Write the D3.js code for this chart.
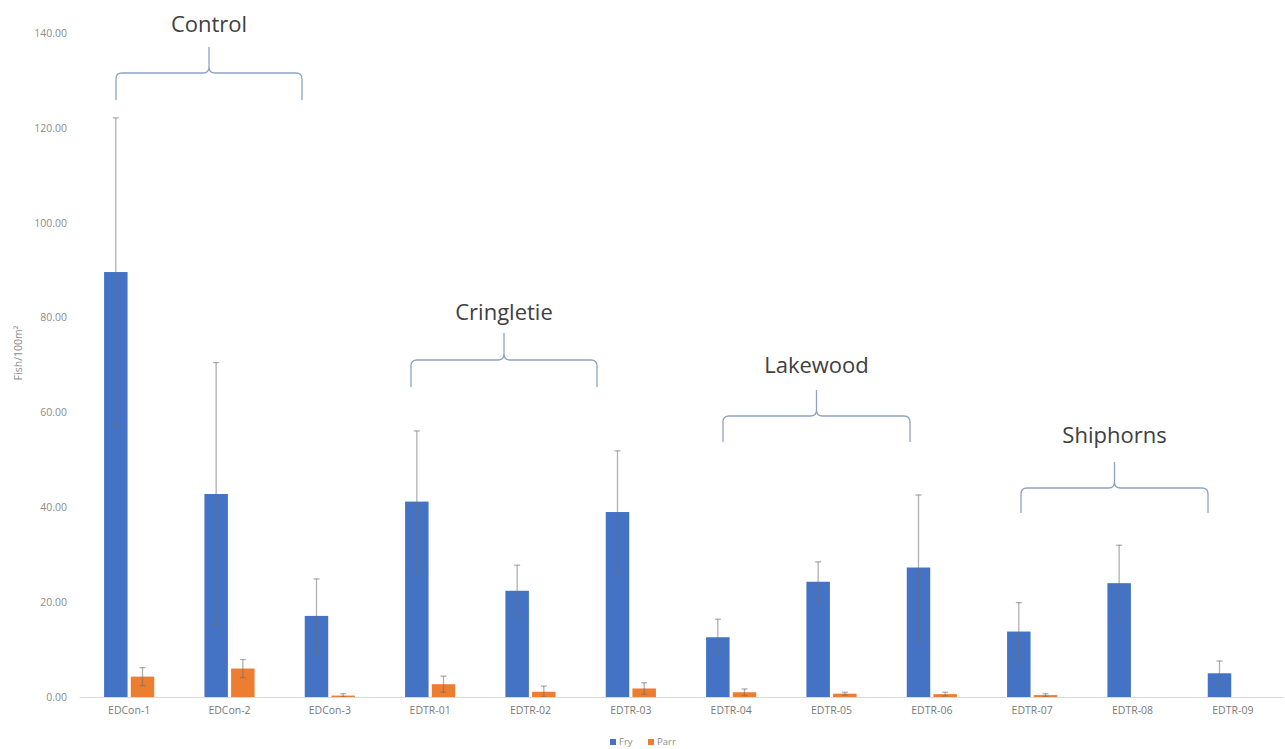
<!DOCTYPE html>
<html>
<head>
<meta charset="utf-8">
<script src="https://cdn.jsdelivr.net/npm/d3@7/dist/d3.min.js"></script>
<style>
  html, body { margin: 0; padding: 0; background: #ffffff; }
  svg { display: block; }
</style>
</head>
<body>
<svg id="chart" width="1285" height="749"></svg>
<script>
// Sites sampled, in plot order
const sites = ["EDCon-1", "EDCon-2", "EDCon-3", "EDTR-01", "EDTR-02", "EDTR-03",
               "EDTR-04", "EDTR-05", "EDTR-06", "EDTR-07", "EDTR-08", "EDTR-09"];
const seriesNames = ["Fry", "Parr"];

// Mean density (fish per 100 m²) and error magnitude for each site
const fryMean  = [89.6, 42.8, 17.1, 41.2, 22.4, 39.0, 12.6, 24.3, 27.3, 13.8, 24.0, 5.0];
const fryErr   = [32.5, 27.7,  7.8, 14.9,  5.4, 12.9,  3.8,  4.2, 15.3,  6.1,  8.0, 2.6];
const parrMean = [ 4.3,  6.0,  0.3,  2.7,  1.1,  1.8,  1.0,  0.7,  0.6,  0.4,  0.0, 0.0];
const parrErr  = [ 1.9,  1.9,  0.4,  1.7,  1.2,  1.2,  0.7,  0.3,  0.4,  0.3,  0.0, 0.0];

const yTicks = [0, 20, 40, 60, 80, 100, 120, 140];

// Catchment groupings shown with braces above the bars
const groupNames = ["Control", "Cringletie", "Lakewood", "Shiphorns"];

// Brace placement (pixels): left end, right end, bar-level y, tip y, label y
const braceLayout = [
  { x1: 116,  x2: 302,  yEnd: 100, yBar: 73,  yTip: 47,  yText: 32 },
  { x1: 411,  x2: 597,  yEnd: 387, yBar: 360, yTip: 333, yText: 320 },
  { x1: 723,  x2: 910,  yEnd: 442, yBar: 416, yTip: 390, yText: 373 },
  { x1: 1021, x2: 1208, yEnd: 513, yBar: 488, yTip: 462, yText: 443 }
];

const colors = { Fry: "#4472c4", Parr: "#ed7d31" };

const svg = d3.select("#chart");
const plotLeft = 79, plotRight = 1283, plotTop = 33, plotBottom = 697;
const font = "'Open Sans', 'Liberation Sans', sans-serif";

const x0 = d3.scaleBand().domain(sites).range([plotLeft, plotRight])
  .paddingInner(0.5).paddingOuter(0.25);
const x1 = d3.scaleBand().domain(seriesNames).range([0, x0.bandwidth()])
  .paddingInner(0.12);
const y = d3.scaleLinear().domain([0, 140]).range([plotBottom, plotTop]);

const rows = sites.map((s, i) => ({
  site: s,
  values: [
    { key: "Fry",  v: fryMean[i],  e: fryErr[i] },
    { key: "Parr", v: parrMean[i], e: parrErr[i] }
  ]
}));

// Y axis tick labels (no axis line, no gridlines)
const yAxis = d3.axisLeft(y).tickValues(yTicks).tickFormat(d3.format(".2f")).tickSize(0).tickPadding(0);
const yg = svg.append("g").attr("transform", `translate(67,0)`).call(yAxis);
yg.select(".domain").remove();
yg.selectAll("text")
  .attr("fill", "#8c8c8c")
  .style("font-family", font)
  .style("font-size", "10.5px");

// Y axis title
svg.append("text")
  .attr("transform", "translate(22,353) rotate(-90)")
  .attr("text-anchor", "middle")
  .attr("fill", "#8c8c8c")
  .style("font-family", font)
  .style("font-size", "10.5px")
  .text("Fish/100m²");

// Bars
const groups = svg.append("g").selectAll("g").data(rows).join("g")
  .attr("transform", d => `translate(${x0(d.site)},0)`);

groups.selectAll("rect").data(d => d.values).join("rect")
  .attr("x", d => x1(d.key))
  .attr("width", x1.bandwidth())
  .attr("y", d => y(d.v))
  .attr("height", d => y(0) - y(d.v))
  .attr("fill", d => colors[d.key]);

// Error bars (symmetric, drawn over the bars)
const eb = groups.selectAll("g.err").data(d => d.values.filter(v => v.v > 0 || v.e > 0)).join("g")
  .attr("class", "err")
  .attr("stroke", "#6f6f6f")
  .attr("stroke-opacity", 0.55)
  .attr("stroke-width", 1.3);
eb.append("line")
  .attr("x1", d => x1(d.key) + x1.bandwidth() / 2)
  .attr("x2", d => x1(d.key) + x1.bandwidth() / 2)
  .attr("y1", d => y(Math.max(0, d.v - d.e)))
  .attr("y2", d => y(d.v + d.e));
eb.append("line")
  .attr("x1", d => x1(d.key) + x1.bandwidth() / 2 - 3)
  .attr("x2", d => x1(d.key) + x1.bandwidth() / 2 + 3)
  .attr("y1", d => y(d.v + d.e))
  .attr("y2", d => y(d.v + d.e));
eb.append("line")
  .attr("x1", d => x1(d.key) + x1.bandwidth() / 2 - 3)
  .attr("x2", d => x1(d.key) + x1.bandwidth() / 2 + 3)
  .attr("y1", d => y(Math.max(0, d.v - d.e)))
  .attr("y2", d => y(Math.max(0, d.v - d.e)));

// Category axis
const xAxis = d3.axisBottom(x0).tickSize(0).tickPadding(10);
const xg = svg.append("g").attr("transform", `translate(0,${plotBottom})`).call(xAxis);
xg.select(".domain").attr("stroke", "#d9d9d9").attr("stroke-width", 1);
xg.selectAll("text")
  .attr("fill", "#7a7a7a")
  .style("font-family", font)
  .style("font-size", "10.5px");

// Group braces with labels
function bracePath(b) {
  const cx = (b.x1 + b.x2) / 2, r = 6;
  return `M${b.x1},${b.yEnd} L${b.x1},${b.yBar + r} Q${b.x1},${b.yBar} ${b.x1 + r},${b.yBar}` +
         ` L${cx - r},${b.yBar} Q${cx},${b.yBar} ${cx},${b.yBar - r} L${cx},${b.yTip}` +
         ` M${cx},${b.yBar - r} Q${cx},${b.yBar} ${cx + r},${b.yBar}` +
         ` L${b.x2 - r},${b.yBar} Q${b.x2},${b.yBar} ${b.x2},${b.yBar + r} L${b.x2},${b.yEnd}`;
}
const ann = svg.append("g");
groupNames.forEach((name, i) => {
  const b = braceLayout[i];
  ann.append("path")
    .attr("d", bracePath(b))
    .attr("fill", "none")
    .attr("stroke", "#8ea2c6")
    .attr("stroke-width", 1.3);
  ann.append("text")
    .attr("x", (b.x1 + b.x2) / 2)
    .attr("y", b.yText)
    .attr("text-anchor", "middle")
    .attr("fill", "#404040")
    .style("font-family", font)
    .style("font-size", "22px")
    .text(name);
});

// Legend
const legend = svg.append("g").attr("transform", "translate(610,742)");
const legX = [0, 38];
seriesNames.forEach((s, i) => {
  legend.append("rect").attr("x", legX[i]).attr("y", -3).attr("width", 6).attr("height", 6)
    .attr("fill", colors[s]);
  legend.append("text").attr("x", legX[i] + 9).attr("y", 3)
    .attr("fill", "#8c8c8c")
    .style("font-family", font)
    .style("font-size", "9.5px")
    .text(s);
});
</script>
</body>
</html>
